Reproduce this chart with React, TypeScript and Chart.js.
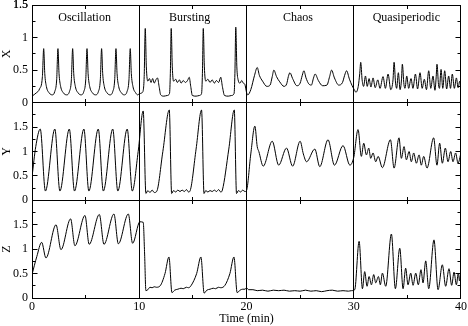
import React, { useEffect, useRef } from 'react';
import { Chart, registerables } from 'chart.js';

Chart.register(...registerables);

// ---- axis / label data ----
const timeTickStep = 10;
const timeRange = [0, 40];
const regimeLabels = ['Oscillation', 'Bursting', 'Chaos', 'Quasiperiodic'];
const regimeCenters = [4.9, 14.7, 24.8, 34.9];
const regimeBounds = [10, 20, 30];
const panelNames = ['X', 'Y', 'Z'];
const panelMax = [1.5, 2, 2];

// ---- series: [time (min), value] ----
const seriesX: [number, number][] = [
  [0, 0.10], [0.4, 0.15], [0.7, 0.21], [0.97, 0.40], [1.09, 0.83], [1.19, 0.45], [1.34, 0.25], [1.6, 0.15], [1.89, 0.12],
  [2.12, 0.17], [2.30, 0.35], [2.42, 0.83], [2.52, 0.45], [2.67, 0.25], [2.93, 0.15], [3.22, 0.12],
  [3.49, 0.17], [3.67, 0.35], [3.79, 0.83], [3.89, 0.45], [4.04, 0.25], [4.30, 0.15], [4.57, 0.12],
  [4.83, 0.17], [5.01, 0.35], [5.13, 0.83], [5.23, 0.45], [5.38, 0.25], [5.64, 0.15], [5.92, 0.12],
  [6.19, 0.17], [6.37, 0.35], [6.49, 0.83], [6.59, 0.45], [6.74, 0.25], [7.0, 0.15], [7.27, 0.12],
  [7.53, 0.17], [7.71, 0.35], [7.83, 0.83], [7.93, 0.45], [8.08, 0.25], [8.34, 0.15], [8.6, 0.12],
  [8.86, 0.17], [9.04, 0.35], [9.16, 0.83], [9.26, 0.45], [9.41, 0.25], [9.67, 0.15], [9.85, 0.12],
  [10.05, 0.14], [10.3, 0.16], [10.46, 0.40], [10.56, 1.14], [10.66, 0.55], [10.8, 0.33], [10.95, 0.37], [11.1, 0.31],
  [11.25, 0.37], [11.4, 0.30], [11.55, 0.35], [11.7, 0.38], [11.85, 0.25], [12.0, 0.12], [12.3, 0.10], [12.6, 0.11],
  [12.82, 0.14], [12.9, 0.45], [12.98, 1.14], [13.08, 0.55], [13.2, 0.33], [13.4, 0.36], [13.55, 0.31], [13.75, 0.35],
  [13.9, 0.30], [14.1, 0.34], [14.3, 0.31], [14.5, 0.34], [14.66, 0.39], [14.8, 0.25], [14.95, 0.11], [15.3, 0.10],
  [15.6, 0.11], [15.81, 0.14], [15.89, 0.45], [15.97, 1.14], [16.07, 0.55], [16.2, 0.33], [16.4, 0.36], [16.6, 0.31],
  [16.8, 0.35], [17.0, 0.30], [17.2, 0.34], [17.4, 0.31], [17.6, 0.39], [17.75, 0.25], [17.95, 0.11], [18.3, 0.10],
  [18.6, 0.11], [18.84, 0.14], [18.92, 0.45], [19.0, 1.16], [19.1, 0.55], [19.22, 0.35], [19.4, 0.30], [19.55, 0.34],
  [19.7, 0.30], [19.85, 0.28], [20.0, 0.16], [20.12, 0.12],
  [20.4, 0.2], [20.75, 0.42], [21.0, 0.54], [21.2, 0.42], [21.5, 0.33], [21.9, 0.25], [22.2, 0.27], [22.4, 0.4],
  [22.55, 0.5], [22.8, 0.4], [23.1, 0.32], [23.5, 0.25], [23.75, 0.29], [23.9, 0.4], [24.05, 0.46], [24.3, 0.37],
  [24.7, 0.26], [25.0, 0.3], [25.2, 0.42], [25.35, 0.49], [25.55, 0.38], [25.8, 0.29], [26.05, 0.27], [26.25, 0.38],
  [26.4, 0.44], [26.7, 0.34], [27.1, 0.26], [27.5, 0.27], [27.75, 0.4], [27.93, 0.5], [28.2, 0.38], [28.6, 0.27],
  [28.95, 0.31], [29.15, 0.42], [29.33, 0.49], [29.6, 0.36], [29.85, 0.26], [30.05, 0.2],
  [30.2, 0.16], [30.42, 0.25], [30.56, 0.45], [30.65, 0.62], [30.78, 0.35], [30.92, 0.25], [31.09, 0.41], [31.26, 0.25],
  [31.43, 0.37], [31.6, 0.24], [31.8, 0.38], [32.0, 0.23], [32.24, 0.35], [32.45, 0.22], [32.73, 0.40], [32.95, 0.22],
  [33.2, 0.44], [33.45, 0.2], [33.66, 0.35], [33.76, 0.62], [33.9, 0.3], [34.0, 0.22], [34.16, 0.46], [34.32, 0.2],
  [34.45, 0.35], [34.53, 0.59], [34.68, 0.28], [34.78, 0.22], [34.94, 0.41], [35.12, 0.22], [35.34, 0.37], [35.52, 0.22],
  [35.75, 0.44], [35.95, 0.21], [36.18, 0.46], [36.38, 0.22], [36.58, 0.36], [36.78, 0.2], [36.99, 0.49], [37.18, 0.22],
  [37.39, 0.41], [37.57, 0.19], [37.68, 0.38], [37.76, 0.59], [37.9, 0.28], [37.99, 0.22], [38.14, 0.51], [38.3, 0.22],
  [38.48, 0.49], [38.66, 0.21], [38.85, 0.41], [39.02, 0.22], [39.19, 0.44], [39.38, 0.22], [39.57, 0.38], [39.73, 0.23],
  [39.88, 0.33], [40.0, 0.25],
];

const seriesY: [number, number][] = [
  [0, 0.48], [0.35, 1.1], [0.77, 1.46], [1.25, 0.19], [2.13, 1.46], [2.6, 0.19], [3.48, 1.46], [3.96, 0.19],
  [4.84, 1.46], [5.3, 0.19], [6.18, 1.46], [6.65, 0.19], [7.53, 1.46], [8.0, 0.19], [8.88, 1.46], [9.35, 0.19],
  [9.9, 1.0], [10.37, 1.83], [10.62, 0.14], [10.8, 0.2], [11.0, 0.16], [11.2, 0.21], [11.4, 0.16], [11.62, 0.18],
  [12.2, 1.0], [12.8, 1.85], [13.02, 0.14], [13.2, 0.2], [13.4, 0.17], [13.6, 0.21], [13.8, 0.18], [14.0, 0.21],
  [14.2, 0.18], [14.4, 0.22], [14.6, 0.17], [14.75, 0.2], [15.3, 1.05], [15.81, 1.85], [16.04, 0.14], [16.2, 0.2],
  [16.4, 0.17], [16.6, 0.2], [16.8, 0.18], [17.0, 0.21], [17.2, 0.18], [17.4, 0.22], [17.6, 0.17], [17.75, 0.21],
  [18.35, 1.05], [18.86, 1.85], [19.07, 0.14], [19.25, 0.2], [19.45, 0.17], [19.65, 0.21], [19.85, 0.18], [20.0, 0.2],
  [20.4, 0.95], [20.78, 1.52], [21.0, 1.1], [21.15, 1.0], [21.56, 0.7], [22.4, 1.21], [23.0, 0.72], [23.73, 1.07],
  [24.3, 0.7], [25.0, 1.21], [25.3, 0.95], [25.6, 0.79], [26.37, 1.05], [26.83, 0.69], [27.6, 1.24], [28.2, 0.72],
  [29.0, 1.12], [29.64, 0.72], [30.0, 0.88], [30.4, 1.45], [30.71, 0.9], [30.93, 1.17], [31.18, 0.93], [31.4, 1.07],
  [31.58, 0.86], [31.8, 0.97], [32.05, 0.79], [32.27, 0.9], [32.67, 0.67], [33.42, 1.24], [33.76, 0.66], [34.22, 1.28],
  [34.44, 0.86], [34.69, 1.1], [34.91, 0.83], [35.16, 1.0], [35.37, 0.79], [35.59, 0.97], [35.84, 0.76], [36.09, 0.93],
  [36.3, 0.72], [36.52, 0.9], [36.83, 0.66], [37.45, 1.28], [37.76, 0.72], [38.01, 1.17], [38.26, 0.76], [38.54, 1.07],
  [38.79, 0.79], [39.04, 1.0], [39.25, 0.79], [39.5, 0.97], [39.72, 0.76], [40.0, 0.97],
];

const seriesZ: [number, number][] = [
  [0, 0.48], [0.45, 0.85], [0.9, 1.14], [1.3, 0.82], [2.24, 1.5], [2.7, 0.99], [3.6, 1.62], [4.0, 1.07],
  [4.94, 1.69], [5.33, 1.1], [6.28, 1.71], [6.71, 1.1], [7.64, 1.72], [8.05, 1.11], [8.98, 1.72], [9.38, 1.12],
  [10.06, 1.56], [10.37, 1.55], [10.5, 0.9], [10.62, 0.15], [10.8, 0.17], [11.0, 0.22], [11.2, 0.21], [11.4, 0.23],
  [11.6, 0.22], [11.95, 0.25], [12.4, 0.5], [12.77, 0.84], [13.05, 0.11], [13.3, 0.16], [13.6, 0.18], [13.9, 0.2],
  [14.1, 0.19], [14.4, 0.22], [14.6, 0.21], [14.85, 0.26], [15.35, 0.5], [15.75, 0.84], [16.05, 0.1], [16.3, 0.16],
  [16.6, 0.18], [16.9, 0.2], [17.1, 0.19], [17.4, 0.22], [17.6, 0.21], [17.99, 0.26], [18.45, 0.5], [18.83, 0.84],
  [19.13, 0.11], [19.4, 0.16], [19.65, 0.18], [19.86, 0.18], [20.0, 0.21], [20.2, 0.17], [20.6, 0.17], [21.0, 0.15],
  [21.5, 0.16], [22.0, 0.14], [22.5, 0.16], [23.0, 0.15], [23.5, 0.16], [24.0, 0.14], [24.5, 0.15], [25.0, 0.14],
  [25.5, 0.16], [26.0, 0.14], [26.5, 0.15], [27.0, 0.13], [27.5, 0.15], [28.0, 0.16], [28.5, 0.14], [29.0, 0.15],
  [29.5, 0.14], [29.78, 0.15], [30.09, 0.17], [30.5, 1.16], [30.81, 0.19], [31.02, 0.54], [31.24, 0.24], [31.43, 0.44],
  [31.65, 0.27], [31.86, 0.48], [32.05, 0.31], [32.3, 0.44], [32.48, 0.27], [32.67, 0.51], [32.98, 0.24], [33.51, 1.31],
  [33.88, 0.19], [34.29, 1.02], [34.6, 0.19], [34.84, 0.61], [35.06, 0.27], [35.31, 0.51], [35.53, 0.26], [35.78, 0.51],
  [36.02, 0.27], [36.27, 0.58], [36.46, 0.31], [36.71, 0.76], [36.99, 0.19], [37.48, 1.19], [37.86, 0.17], [38.26, 0.68],
  [38.57, 0.24], [38.88, 0.6], [39.13, 0.26], [39.35, 0.53], [39.57, 0.27], [39.75, 0.51], [39.86, 0.35], [40.0, 0.62],
];

const FONT = "'Liberation Serif', 'Times New Roman', serif";

const framePlugin = {
  id: 'framesAndTicks',
  afterDraw(chart: any) {
    const { ctx, chartArea } = chart;
    const xs = chart.scales.x;
    const panels = ['yX', 'yY', 'yZ'].map((id) => chart.scales[id]);
    const snap = (v: number) => Math.floor(v) + 0.5;
    const line = (x1: number, y1: number, x2: number, y2: number) => {
      ctx.beginPath();
      ctx.moveTo(x1, y1);
      ctx.lineTo(x2, y2);
      ctx.stroke();
    };
    ctx.save();
    ctx.strokeStyle = '#000';
    ctx.lineWidth = 1;
    const L = snap(chartArea.left);
    const R = snap(chartArea.right - 1);
    const T = snap(chartArea.top);
    const B = snap(chartArea.bottom);
    line(L, T, L, B);
    line(R, T, R, B);
    regimeBounds.forEach((t) => {
      const px = snap(xs.getPixelForValue(t));
      line(px, T, px, B);
    });
    panels.forEach((sc: any) => {
      const top = snap(sc.top);
      const bottom = snap(sc.bottom);
      line(L - 0.5, top, R + 0.5, top);
      line(L - 0.5, bottom, R + 0.5, bottom);
      const tks = sc.ticks;
      tks.forEach((tk: any, i: number) => {
        const py = snap(sc.getPixelForValue(tk.value));
        line(L, py, L + 5, py);
        line(R, py, R - 5, py);
        if (i < tks.length - 1) {
          const pm = snap(sc.getPixelForValue((tk.value + tks[i + 1].value) / 2));
          line(L, pm, L + 3, pm);
          line(R, pm, R - 3, pm);
        }
      });
      const xt = xs.ticks;
      xt.forEach((tk: any, i: number) => {
        if (i < xt.length - 1) {
          const px = snap(xs.getPixelForValue((tk.value + xt[i + 1].value) / 2));
          line(px, top, px, top + 3.5);
          line(px, bottom, px, bottom - 3.5);
        }
      });
    });
    ctx.fillStyle = '#000';
    ctx.font = `12px ${FONT}`;
    ctx.textAlign = 'center';
    ctx.textBaseline = 'middle';
    const topPanel = panels[0];
    regimeLabels.forEach((lab, i) => {
      ctx.fillText(lab, xs.getPixelForValue(regimeCenters[i]), topPanel.getPixelForValue(1.3));
    });
    // top tick label of the upper panel, at the canvas edge
    const lastTick = topPanel.ticks[topPanel.ticks.length - 1];
    if (lastTick && lastTick.label) {
      ctx.textAlign = 'right';
      ctx.fillText(String(lastTick.label), chartArea.left - 4, topPanel.getPixelForValue(lastTick.value));
    }
    ctx.restore();
  },
};

function yScale(index: number) {
  const max = panelMax[index];
  return {
    type: 'linear',
    position: 'left',
    stack: 'panels',
    stackWeight: 1,
    weight: 3 - index,
    min: 0,
    max,
    grid: { display: false, drawTicks: false },
    border: { display: false },
    ticks: {
      stepSize: 0.5,
      autoSkip: false,
      padding: 4,
      color: '#000',
      font: { size: 12, family: FONT },
      callback: (v: number) => (index > 0 && v === max ? '' : String(v)),
    },
    title: {
      display: true,
      text: panelNames[index],
      color: '#000',
      font: { size: 12, family: FONT },
      padding: { top: 0, bottom: 0 },
    },
    afterFit: (s: any) => {
      s.width = 32;
      s.paddingTop = 0;
      s.paddingBottom = 0;
    },
  };
}

export default function App() {
  const ref = useRef<HTMLCanvasElement>(null);
  useEffect(() => {
    if (!ref.current) return;
    const mk = (s: [number, number][]) => s.map(([x, y]) => ({ x, y }));
    const ds = (data: [number, number][], axis: string) => ({
      data: mk(data),
      yAxisID: axis,
      borderColor: '#000',
      borderWidth: 1,
      pointRadius: 0,
      fill: false,
      cubicInterpolationMode: 'monotone',
    });
    const chart = new Chart(ref.current, {
      type: 'line',
      data: {
        datasets: [ds(seriesX, 'yX'), ds(seriesY, 'yY'), ds(seriesZ, 'yZ')] as any,
      },
      options: {
        animation: false,
        responsive: false,
        layout: { padding: { left: 0, right: 7, top: 5, bottom: 0 } },
        plugins: { legend: { display: false }, tooltip: { enabled: false } },
        scales: {
          x: {
            type: 'linear',
            min: timeRange[0],
            max: timeRange[1],
            grid: { display: false, drawTicks: false },
            border: { display: false },
            ticks: {
              stepSize: timeTickStep,
              padding: 2,
              color: '#000',
              font: { size: 12, family: FONT },
            },
            title: {
              display: true,
              text: 'Time (min)',
              color: '#000',
              font: { size: 12, family: FONT },
              padding: { top: 0, bottom: 0 },
            },
            afterFit: (s: any) => {
              s.height = 28;
              s.paddingLeft = 0;
              s.paddingRight = 0;
            },
          },
          yX: yScale(0),
          yY: yScale(1),
          yZ: yScale(2),
        } as any,
      },
      plugins: [framePlugin],
    });
    return () => chart.destroy();
  }, []);
  return (
    <div style={{ position: 'fixed', left: 0, top: 0, width: 468, height: 326, background: '#fff' }}>
      <canvas ref={ref} width={468} height={326} style={{ display: 'block' }} />
    </div>
  );
}
